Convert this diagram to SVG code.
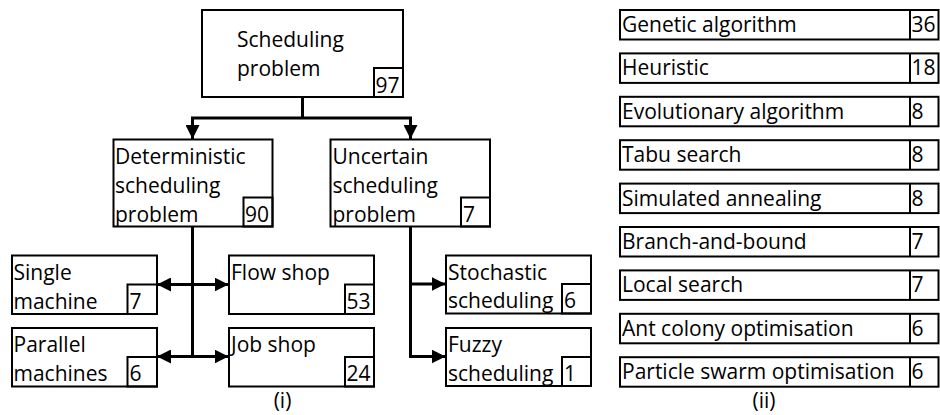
<svg xmlns="http://www.w3.org/2000/svg" width="940" height="415" viewBox="0 0 940 415">
  <defs>
    <style>
      .box { fill: #ffffff; stroke: #000000; stroke-width: 2; }
      .num { fill: none; stroke: #000000; stroke-width: 2; }
      .conn { fill: none; stroke: #000000; stroke-width: 3; }
      text { font-family: "Open Sans", "Noto Sans", "Liberation Sans", sans-serif; font-size: 21px; fill: #000000; }
      .cap { text-anchor: middle; }
    </style>
    <marker id="arrow" markerUnits="userSpaceOnUse" markerWidth="14" markerHeight="14" viewBox="0 0 13 13" refX="13" refY="6.5" orient="auto-start-reverse">
      <path d="M0,0 L13,6.5 L0,13 z" fill="#000000"/>
    </marker>
  </defs>
  <rect width="940" height="415" fill="#ffffff"/>

  <!-- connectors of the classification tree -->
  <g id="connectors">
    <path class="conn" d="M302.5,97 V118"/>
    <path class="conn" d="M192.5,139 V118 H410.5 V139" marker-start="url(#arrow)" marker-end="url(#arrow)"/>
    <path class="conn" d="M192.5,226.5 V356.5"/>
    <path class="conn" d="M157,284.5 H228.5" marker-start="url(#arrow)" marker-end="url(#arrow)"/>
    <path class="conn" d="M157,356.5 H228.5" marker-start="url(#arrow)" marker-end="url(#arrow)"/>
    <path class="conn" d="M410.5,226.5 V356.5 H445.5" marker-end="url(#arrow)"/>
    <path class="conn" d="M410.5,284 H445.5" marker-end="url(#arrow)"/>
  </g>

  <!-- (i) tree nodes -->
  <g id="scheduling-problem">
    <rect class="box" x="202" y="10" width="201" height="87"/>
    <rect class="num" x="374" y="68" width="29" height="29"/>
    <text x="237" y="46.5">Scheduling</text>
    <text x="237" y="75.5">problem</text>
    <text x="375.5" y="92.5">97</text>
  </g>
  <g id="deterministic">
    <rect class="box" x="113.5" y="139.5" width="159" height="87"/>
    <rect class="num" x="243.5" y="197.5" width="29" height="29"/>
    <text x="115" y="164.3">Deterministic</text>
    <text x="115" y="193">scheduling</text>
    <text x="115" y="221.7">problem</text>
    <text x="245" y="221.7">90</text>
  </g>
  <g id="uncertain">
    <rect class="box" x="330.5" y="139.5" width="159.5" height="87"/>
    <rect class="num" x="461" y="197.5" width="29" height="29"/>
    <text x="332.5" y="164.3">Uncertain</text>
    <text x="332.5" y="193">scheduling</text>
    <text x="332.5" y="221.7">problem</text>
    <text x="463" y="221.7">7</text>
  </g>
  <g id="single-machine">
    <rect class="box" x="12" y="255.5" width="145" height="58.5"/>
    <rect class="num" x="127.5" y="284.5" width="29.5" height="29.5"/>
    <text x="13.5" y="280">Single</text>
    <text x="13.5" y="308.5">machine</text>
    <text x="129.5" y="308.5">7</text>
  </g>
  <g id="parallel-machines">
    <rect class="box" x="12" y="328" width="145" height="58.5"/>
    <rect class="num" x="127.5" y="357" width="29.5" height="29.5"/>
    <text x="13.5" y="352">Parallel</text>
    <text x="13.5" y="381">machines</text>
    <text x="129.5" y="381">6</text>
  </g>
  <g id="flow-shop">
    <rect class="box" x="229" y="255.5" width="145" height="58.5"/>
    <rect class="num" x="345" y="284.5" width="29" height="29.5"/>
    <text x="231" y="280">Flow shop</text>
    <text x="346.5" y="308.5">53</text>
  </g>
  <g id="job-shop">
    <rect class="box" x="229" y="328" width="145" height="58.5"/>
    <rect class="num" x="345" y="357" width="29" height="29.5"/>
    <text x="231" y="352">Job shop</text>
    <text x="346.5" y="381">24</text>
  </g>
  <g id="stochastic">
    <rect class="box" x="446" y="255.5" width="145" height="58"/>
    <rect class="num" x="562" y="284" width="29" height="29.5"/>
    <text x="448" y="279.5">Stochastic</text>
    <text x="448" y="308.3">scheduling</text>
    <text x="564" y="308.3">6</text>
  </g>
  <g id="fuzzy">
    <rect class="box" x="446" y="328" width="145" height="58"/>
    <rect class="num" x="562" y="357" width="29" height="29"/>
    <text x="448" y="351.7">Fuzzy</text>
    <text x="448" y="380.5">scheduling</text>
    <text x="564" y="380.5">1</text>
  </g>
  <text class="cap" x="282.5" y="408">(i)</text>

  <!-- (ii) solution methods with counts -->
  <g id="genetic-algorithm">
    <rect class="box" x="620" y="10" width="318.5" height="29.5"/>
    <line class="num" x1="910" y1="10" x2="910" y2="39.5"/>
    <text x="622" y="32">Genetic algorithm</text>
    <text x="911.5" y="32">36</text>
  </g>
  <g id="heuristic">
    <rect class="box" x="620" y="53.4" width="318.5" height="29.5"/>
    <line class="num" x1="910" y1="53.4" x2="910" y2="82.9"/>
    <text x="622" y="75.4">Heuristic</text>
    <text x="911.5" y="75.4">18</text>
  </g>
  <g id="evolutionary-algorithm">
    <rect class="box" x="620" y="96.8" width="318.5" height="29.5"/>
    <line class="num" x1="910" y1="96.8" x2="910" y2="126.3"/>
    <text x="622" y="118.8">Evolutionary algorithm</text>
    <text x="911.5" y="118.8">8</text>
  </g>
  <g id="tabu-search">
    <rect class="box" x="620" y="140.2" width="318.5" height="29.5"/>
    <line class="num" x1="910" y1="140.2" x2="910" y2="169.7"/>
    <text x="622" y="162.2">Tabu search</text>
    <text x="911.5" y="162.2">8</text>
  </g>
  <g id="simulated-annealing">
    <rect class="box" x="620" y="183.6" width="318.5" height="29.5"/>
    <line class="num" x1="910" y1="183.6" x2="910" y2="213.1"/>
    <text x="622" y="205.6">Simulated annealing</text>
    <text x="911.5" y="205.6">8</text>
  </g>
  <g id="branch-and-bound">
    <rect class="box" x="620" y="227" width="318.5" height="29.5"/>
    <line class="num" x1="910" y1="227" x2="910" y2="256.5"/>
    <text x="622" y="249">Branch-and-bound</text>
    <text x="911.5" y="249">7</text>
  </g>
  <g id="local-search">
    <rect class="box" x="620" y="270.4" width="318.5" height="29.5"/>
    <line class="num" x1="910" y1="270.4" x2="910" y2="299.9"/>
    <text x="622" y="292.4">Local search</text>
    <text x="911.5" y="292.4">7</text>
  </g>
  <g id="ant-colony">
    <rect class="box" x="620" y="313.8" width="318.5" height="29.5"/>
    <line class="num" x1="910" y1="313.8" x2="910" y2="343.3"/>
    <text x="622" y="335.8">Ant colony optimisation</text>
    <text x="911.5" y="335.8">6</text>
  </g>
  <g id="particle-swarm">
    <rect class="box" x="620" y="357.2" width="318.5" height="29.5"/>
    <line class="num" x1="910" y1="357.2" x2="910" y2="386.7"/>
    <text x="622" y="379.2">Particle swarm optimisation</text>
    <text x="911.5" y="379.2">6</text>
  </g>
  <text class="cap" x="764" y="408">(ii)</text>
</svg>
